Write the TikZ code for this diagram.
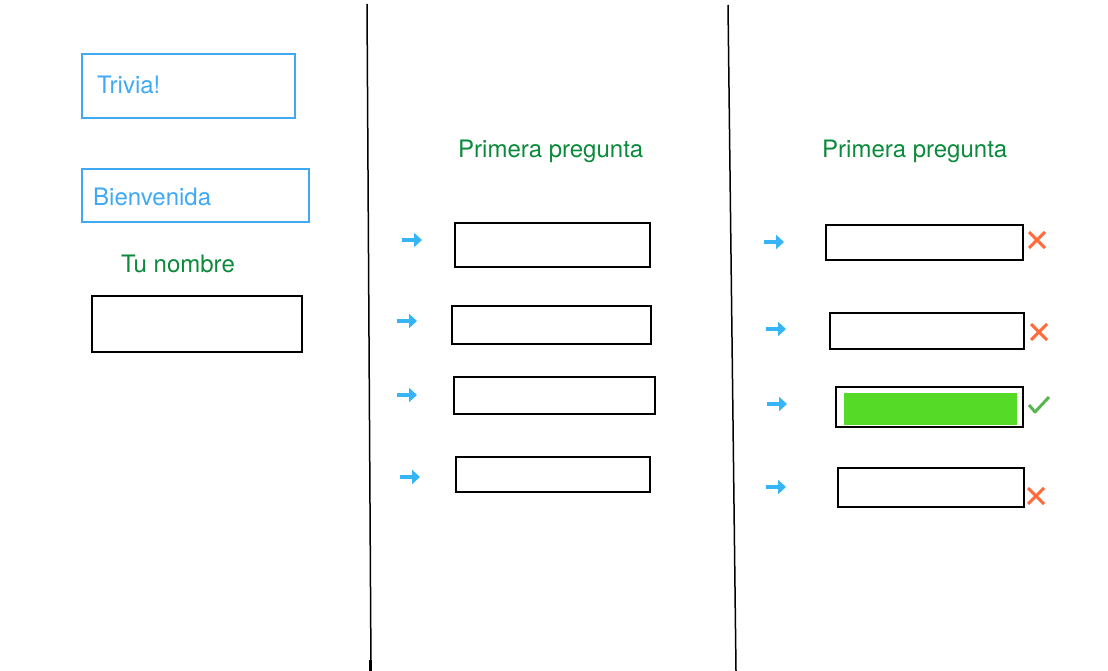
\documentclass[tikz,border=0pt]{standalone}
\usepackage{fontspec}
\setmainfont{TeX Gyre Heros}
\usetikzlibrary{arrows.meta}

\definecolor{trivblue}{RGB}{63,169,245}
\definecolor{arrblue}{RGB}{53,181,247}
\definecolor{labgreen}{RGB}{11,138,59}
\definecolor{wrongred}{RGB}{255,107,59}
\definecolor{okgreen}{RGB}{91,181,79}
\definecolor{fillgreen}{RGB}{85,218,40}

\begin{document}
\begin{tikzpicture}[x=1pt,y=-1pt,
    txt/.style={font=\fontsize{24}{28}\selectfont,inner sep=0pt,anchor=base west},
    bluebox/.style={draw=trivblue,line width=2pt,inner sep=0pt},
    answer/.style={draw=black,line width=2pt,inner sep=0pt},
    qarrow/.style={arrblue,line width=4pt,-{Triangle[length=8pt,width=14pt]}},
    wrong/.style={wrongred,line width=3pt},
    ok/.style={okgreen,line width=3pt,line join=round}]
  \useasboundingbox (0,0) rectangle (1108,671);
  % columns
  \draw[line width=1.5pt] (367,4) -- (371,671);
  \draw[line width=3pt] (370,660) -- (370,671);
  \draw[line width=1.5pt] (728,5) -- (736,671);
  % welcome screen
  \node[bluebox,minimum width=213,minimum height=64] (trivia) at (188.5,86) {};
  \node[txt,text=trivblue] (triviatxt) at (97,94) {Trivia!};
  \node[bluebox,minimum width=227,minimum height=53] (bienv) at (195.5,195.5) {};
  \node[txt,text=trivblue] (bienvtxt) at (93,206) {Bienvenida};
  \node[txt,text=labgreen] (nombretxt) at (121,272) {Tu nombre};
  \node[answer,minimum width=210,minimum height=56] (nombre) at (197,324) {};
  % question screen
  \node[txt,text=labgreen] (pregA) at (458,158) {Primera pregunta};
  \node[answer,minimum width=195,minimum height=44] (a1) at (552.5,245) {};
  \node[answer,minimum width=199,minimum height=38] (a2) at (551.5,325) {};
  \node[answer,minimum width=201,minimum height=37] (a3) at (554.5,395.5) {};
  \node[answer,minimum width=194,minimum height=35] (a4) at (553,474.5) {};
  \draw[qarrow] (402,240) -- (422,240);
  \draw[qarrow] (397,321) -- (417,321);
  \draw[qarrow] (397,395) -- (417,395);
  \draw[qarrow] (400,477) -- (420,477);
  % answer screen
  \node[txt,text=labgreen] (pregB) at (822,158) {Primera pregunta};
  \node[answer,minimum width=197,minimum height=35] (b1) at (924.5,242.5) {};
  \node[answer,minimum width=194,minimum height=36] (b2) at (927,331) {};
  \node[answer,minimum width=187,minimum height=40] (b3) at (929.5,407) {};
  \node[fill=fillgreen,inner sep=0pt,minimum width=173,minimum height=32] (b3fill) at (930.5,409) {};
  \node[answer,minimum width=186,minimum height=39] (b4) at (931,487.5) {};
  \draw[qarrow] (764,242) -- (784,242);
  \draw[qarrow] (766,329) -- (786,329);
  \draw[qarrow] (767,404) -- (787,404);
  \draw[qarrow] (766,487) -- (786,487);
  \draw[wrong] (1029,232) -- (1045,248) (1029,248) -- (1045,232);
  \draw[wrong] (1031,324) -- (1047,340) (1031,340) -- (1047,324);
  \draw[ok] (1029,405) -- (1035,412) -- (1049,397);
  \draw[wrong] (1028,488) -- (1044,504) (1028,504) -- (1044,488);
\end{tikzpicture}
\end{document}
